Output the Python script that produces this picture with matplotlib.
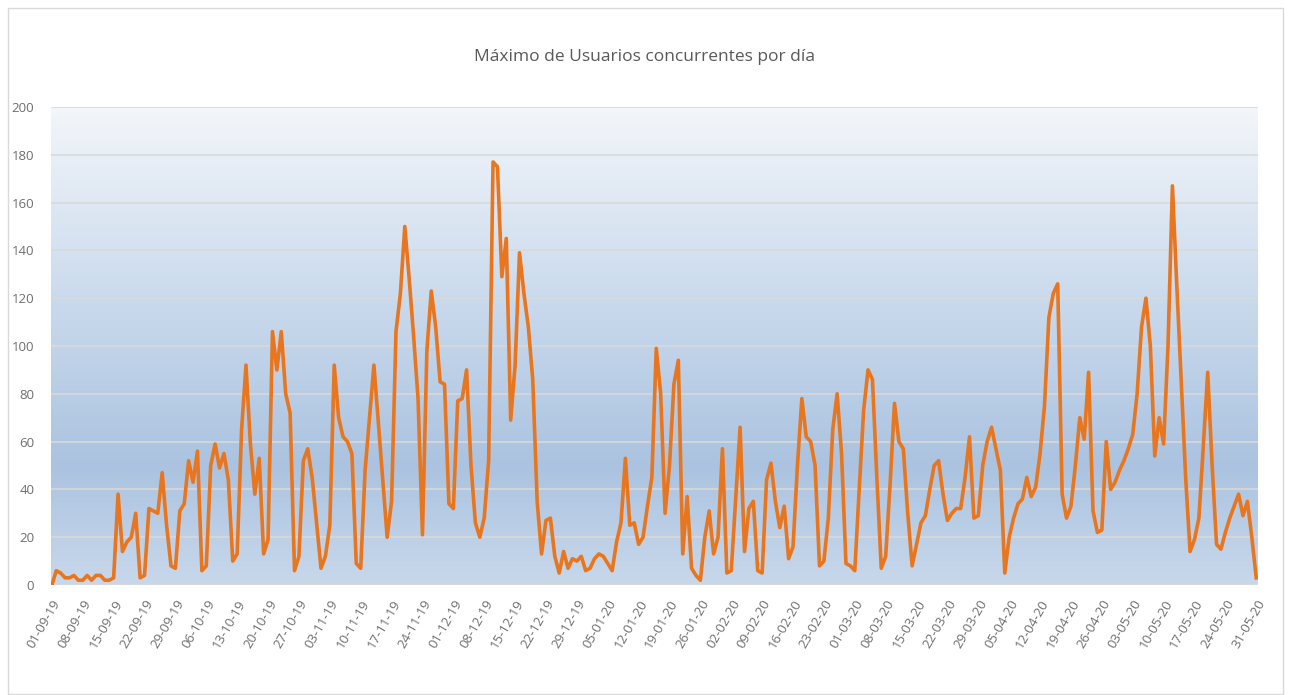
import numpy as np
import pandas as pd
import matplotlib
matplotlib.use("Agg")
import matplotlib.pyplot as plt
from matplotlib.colors import LinearSegmentedColormap
from matplotlib.patches import Rectangle

# ---------------- data ----------------
title = "Máximo de Usuarios concurrentes por día"
start_date = "2019-09-01"
end_date = "2020-05-31"
dates = pd.date_range(start_date, end_date, freq="D")

usuarios = [
    0, 6, 5, 3, 3, 4, 2, 2, 4, 2, 4, 4, 2, 2, 3, 38, 14, 18, 20, 30,
    3, 4, 32, 31, 30, 47, 25, 8, 7, 31, 34, 52, 43, 56, 6, 8, 50, 59, 49, 55,
    44, 10, 13, 65, 92, 59, 38, 53, 13, 19, 106, 90, 106, 80, 72, 6, 12, 52, 57, 45,
    26, 7, 12, 25, 92, 70, 62, 60, 55, 9, 7, 48, 70, 92, 68, 44, 20, 35, 106, 122,
    150, 128, 104, 78, 21, 98, 123, 108, 85, 84, 34, 32, 77, 78, 90, 50, 26, 20, 28, 52,
    177, 175, 129, 145, 69, 92, 139, 122, 108, 86, 35, 13, 27, 28, 12, 5, 14, 7, 11, 10,
    12, 6, 7, 11, 13, 12, 9, 6, 18, 26, 53, 25, 26, 17, 20, 33, 45, 99, 80, 30,
    50, 84, 94, 13, 37, 7, 4, 2, 20, 31, 13, 20, 57, 5, 6, 36, 66, 14, 32, 35,
    6, 5, 44, 51, 35, 24, 33, 11, 16, 50, 78, 62, 60, 50, 8, 10, 28, 65, 80, 55,
    9, 8, 6, 40, 73, 90, 86, 45, 7, 12, 42, 76, 60, 57, 30, 8, 17, 26, 29, 40,
    50, 52, 38, 27, 30, 32, 32, 45, 62, 28, 29, 50, 60, 66, 57, 48, 5, 20, 28, 34,
    36, 45, 37, 41, 55, 75, 112, 122, 126, 38, 28, 33, 50, 70, 61, 89, 31, 22, 23, 60,
    40, 43, 48, 52, 57, 63, 80, 108, 120, 100, 54, 70, 59, 100, 167, 125, 85, 45, 14, 19,
    28, 58, 89, 50, 17, 15, 22, 28, 33, 38, 29, 35, 20, 3,
]
y_ticks = [0, 20, 40, 60, 80, 100, 120, 140, 160, 180, 200]
tick_step_days = 7
x_tick_labels = [d.strftime("%d-%m-%y") for d in dates[::tick_step_days]]

# ---------------- style ----------------
FONT = ["Liberation Sans Narrow", "Open Sans", "DejaVu Sans"]
plt.rcParams["font.family"] = FONT
LINE_COLOR = "#e8761e"
TEXT_COLOR = "#595959"
TICK_COLOR = "#6e6e6e"
GRID_COLOR = "#d9d9d9"

fig = plt.figure(figsize=(12.91, 6.95), dpi=100)
fig.patch.set_facecolor("white")

# outer chart border
fig.add_artist(Rectangle((8 / 1291, 0.002), 1275 / 1291, 1 - 8 / 695 - 0.002,
                         transform=fig.transFigure, fill=False,
                         edgecolor="#d9d9d9", linewidth=1.0))

ax = fig.add_axes([51 / 1291, 1 - 585 / 695, 1207 / 1291, 478 / 695])
x = np.arange(len(usuarios))
ax.set_xlim(-0.2, len(usuarios) - 0.6)
ax.set_ylim(0, 200)

# gradient background
grad_cmap = LinearSegmentedColormap.from_list(
    "bg", [(0.0, "#c8d8eb"), (0.25, "#abc3e0"), (0.6, "#cadaed"), (1.0, "#f3f6fa")])
grad = np.linspace(0, 1, 256).reshape(-1, 1)
ax.imshow(grad, cmap=grad_cmap, aspect="auto", origin="lower",
          extent=(ax.get_xlim()[0], ax.get_xlim()[1], 0, 200), zorder=0)

for yv in y_ticks:
    ax.axhline(yv, color=GRID_COLOR, lw=1.3, zorder=1, alpha=0.9)

ax.plot(x, usuarios, color=LINE_COLOR, lw=2.6, zorder=3, solid_joinstyle="round")

for s in ax.spines.values():
    s.set_visible(False)

ax.set_yticks(y_ticks)
ax.set_yticklabels([str(v) for v in y_ticks], color=TICK_COLOR, fontsize=9.5)
ax.tick_params(axis="y", length=0, pad=12)

ax.set_xticks(x[::tick_step_days])
ax.set_xticklabels(x_tick_labels, rotation=60, ha="right", rotation_mode="anchor",
                   color=TICK_COLOR, fontsize=9.5)
ax.tick_params(axis="x", length=0, pad=9)

fig.text(645 / 1291, 1 - 57 / 695, title, ha="center", va="center",
         fontsize=12.5, color=TEXT_COLOR)

fig.savefig("out.png", dpi=100)
